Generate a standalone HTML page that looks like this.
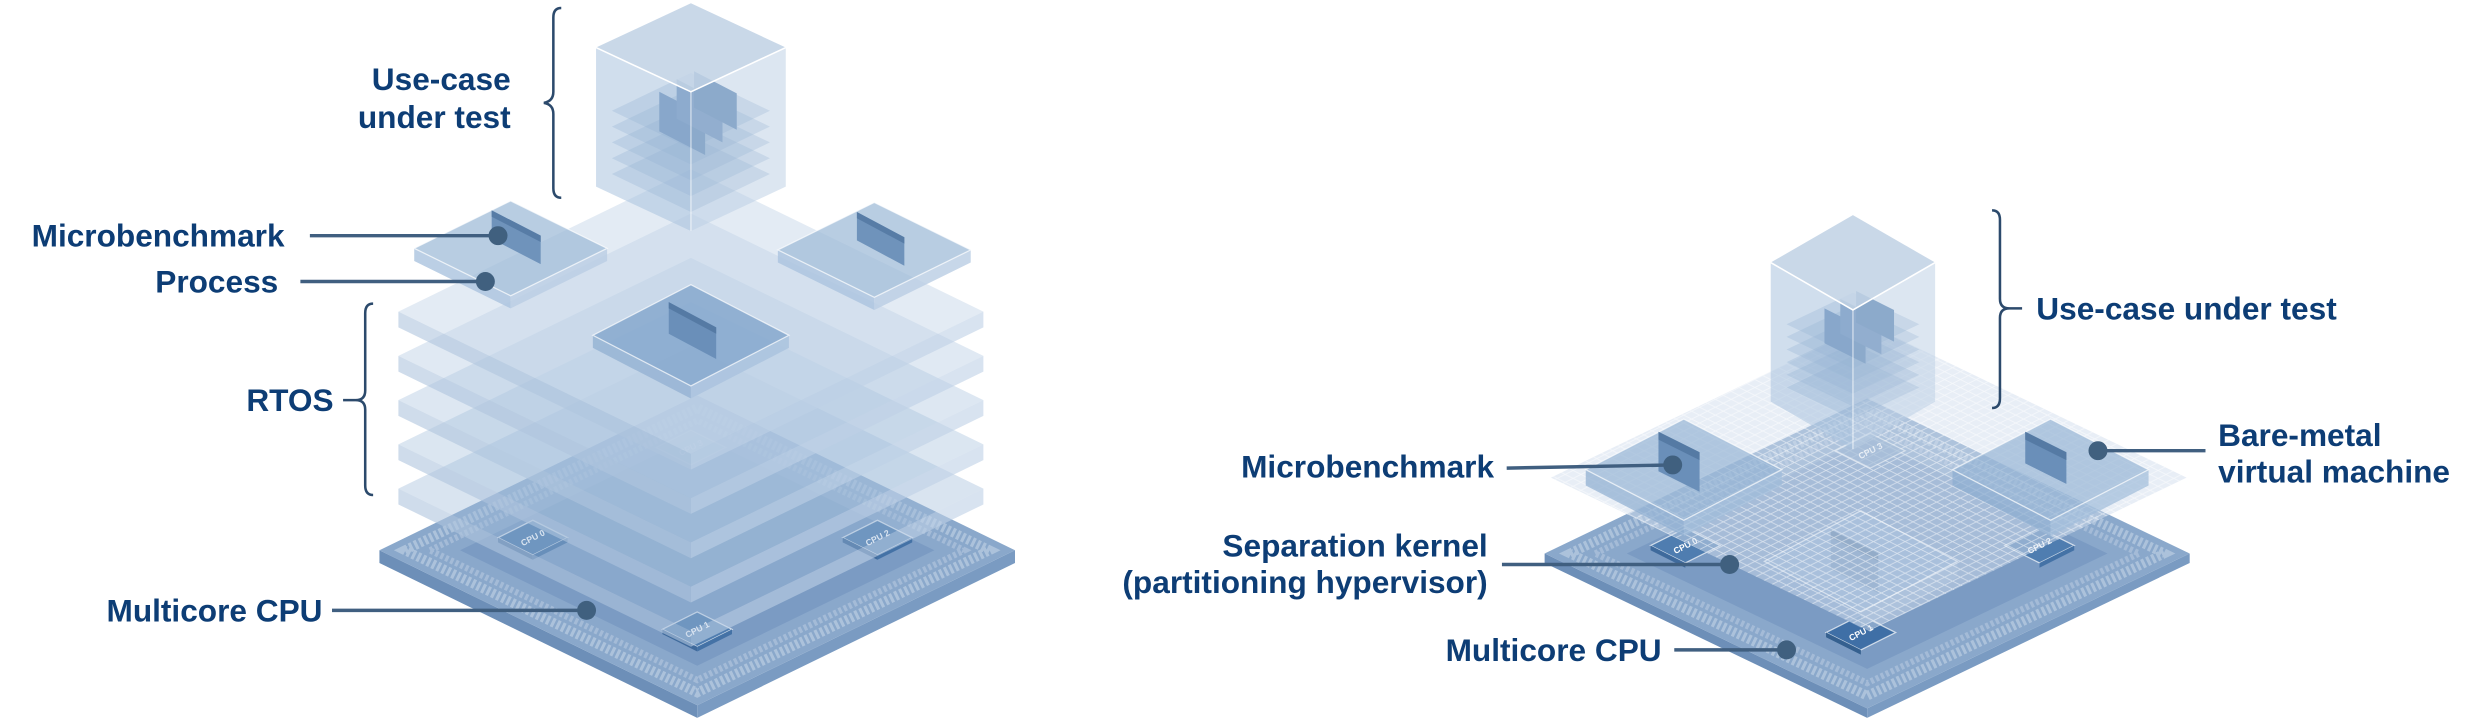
<!DOCTYPE html>
<html><head><meta charset="utf-8"><style>
html,body{margin:0;padding:0;background:#fff;}
svg{display:block;}
.t{font-family:"Liberation Sans",Arial,sans-serif;font-weight:bold;font-size:20px;fill:#0d3d75;}
.c{font-family:"Liberation Sans",Arial,sans-serif;font-weight:bold;font-size:5.5px;fill:#fff;}
.ln{stroke:#405f80;stroke-width:2.2;fill:none;}
.br{stroke:#2c4a6c;stroke-width:1.6;fill:none;}
.dot{fill:#40607f;}
.edge{stroke:#fff;stroke-width:0.8;stroke-opacity:.7;}
</style></head><body>
<svg width="2479" height="718" viewBox="0 0 1568 454" xmlns="http://www.w3.org/2000/svg">
<defs>
<pattern id="grid" width="10" height="5" patternUnits="userSpaceOnUse">
<path d="M0,0 L10,5 M10,0 L0,5" stroke="#fff" stroke-width="0.5" stroke-opacity=".55"/>
</pattern>
</defs>

<!-- ================= LEFT ================= -->
<polygon points="240,348 441,446 441,454 240,356" fill="#6d8fb8"/>
<polygon points="441,446 642,348 642,356 441,454" fill="#7a9bc2"/>
<polygon points="240,348 441,250 642,348 441,446" fill="#8aa8cb"/>
<polygon points="256,348 441,258 626,348 441,438" fill="none" stroke="#c3d3e6" stroke-width="6" stroke-dasharray="2 1.5" opacity=".6"/>
<polygon points="272,348 441,266 610,348 441,430" fill="none" stroke="#c3d3e6" stroke-width="4" stroke-dasharray="2 1.5" opacity=".45"/>
<polygon points="291,348 441,275 591,348 441,421" fill="#7b9bc3"/>
<g><polygon points="315,340 337,329 359,340 337,351" fill="#4f7db0" class="edge"/><polygon points="315,340 337,351 337,354 315,343" fill="#3f6a9c"/><polygon points="337,351 359,340 359,343 337,354" fill="#4472a6"/><text class="c" x="337" y="342" text-anchor="middle" transform="rotate(-27 337 340)">CPU 0</text></g>
<g><polygon points="533,340 555,329 577,340 555,351" fill="#4f7db0" class="edge"/><polygon points="533,340 555,351 555,354 533,343" fill="#3f6a9c"/><polygon points="555,351 577,340 577,343 555,354" fill="#4472a6"/><text class="c" x="555" y="342" text-anchor="middle" transform="rotate(-27 555 340)">CPU 2</text></g>
<g><polygon points="419,398 441,387 463,398 441,409" fill="#4f7db0" class="edge"/><polygon points="419,398 441,409 441,412 419,401" fill="#3f6a9c"/><polygon points="441,409 463,398 463,401 441,412" fill="#4472a6"/><text class="c" x="441" y="400" text-anchor="middle" transform="rotate(-27 441 398)">CPU 1</text></g>
<g opacity=".6"><polygon points="415,283 437,272 459,283 437,294" fill="#9fb8d5" class="edge"/><text class="c" x="437" y="285" text-anchor="middle" transform="rotate(-27 437 283)">CPU 3</text></g>

<!-- RTOS slabs -->
<g>
<g><polygon points="252,309 437,399 437,409 252,319" fill="rgba(175,197,222,.6)"/><polygon points="437,399 622,309 622,319 437,409" fill="rgba(190,208,230,.6)"/><polygon points="252,309 437,219 622,309 437,399" fill="rgba(160,188,218,.4)"/></g>
<g><polygon points="252,281 437,371 437,381 252,291" fill="rgba(175,197,222,.6)"/><polygon points="437,371 622,281 622,291 437,381" fill="rgba(190,208,230,.6)"/><polygon points="252,281 437,191 622,281 437,371" fill="rgba(165,192,220,.4)"/></g>
<g><polygon points="252,253 437,343 437,353 252,263" fill="rgba(175,197,222,.6)"/><polygon points="437,343 622,253 622,263 437,353" fill="rgba(190,208,230,.6)"/><polygon points="252,253 437,163 622,253 437,343" fill="rgba(170,196,222,.4)"/></g>
<g><polygon points="252,225 437,315 437,325 252,235" fill="rgba(175,197,222,.6)"/><polygon points="437,315 622,225 622,235 437,325" fill="rgba(190,208,230,.6)"/><polygon points="252,225 437,135 622,225 437,315" fill="rgba(180,202,226,.42)"/></g>
<g><polygon points="252,197 437,287 437,297 252,207" fill="rgba(175,197,222,.6)"/><polygon points="437,287 622,197 622,207 437,297" fill="rgba(190,208,230,.6)"/><polygon points="252,197 437,107 622,197 437,287" fill="rgba(200,215,233,.5)"/></g>
</g>

<!-- process boxes -->
<g>
<polygon points="262,157 323,187 323,195 262,165" fill="rgba(170,195,222,.8)"/><polygon points="323,187 384,157 384,165 323,195" fill="rgba(185,205,228,.8)"/><polygon points="262,157 323,127 384,157 323,187" fill="rgba(160,188,216,.75)" class="edge"/>
<polygon points="311,133 342,149 342,167 311,151" fill="#6f93bb"/><polygon points="311,133 342,149 342,153 311,137" fill="#577ca6"/>
</g>
<g>
<polygon points="492,158 553,188 553,196 492,166" fill="rgba(170,195,222,.8)"/><polygon points="553,188 614,158 614,166 553,196" fill="rgba(185,205,228,.8)"/><polygon points="492,158 553,128 614,158 553,188" fill="rgba(160,188,216,.75)" class="edge"/>
<polygon points="542,134 572,150 572,168 542,152" fill="#6f93bb"/><polygon points="542,134 572,150 572,154 542,138" fill="#577ca6"/>
</g>
<g>
<polygon points="375,212 437,244 437,252 375,220" fill="rgba(150,180,212,.85)"/><polygon points="437,244 499,212 499,220 437,252" fill="rgba(170,195,222,.85)"/><polygon points="375,212 437,180 499,212 437,244" fill="rgba(130,165,204,.8)" class="edge"/>
<polygon points="423,191 453,207 453,227 423,211" fill="#6a8fb9"/><polygon points="423,191 453,207 453,211 423,195" fill="#557aa4"/>
</g>

<!-- cube left -->
<g>
<polygon points="387,70 437,46 487,70 437,94" fill="rgba(120,155,196,.3)"/>
<polygon points="387,80 437,56 487,80 437,104" fill="rgba(120,155,196,.3)"/>
<polygon points="387,90 437,66 487,90 437,114" fill="rgba(120,155,196,.3)"/>
<polygon points="387,100 437,76 487,100 437,124" fill="rgba(120,155,196,.3)"/>
<polygon points="387,110 437,86 487,110 437,134" fill="rgba(120,155,196,.3)"/>
<polygon points="417,58 446,73 446,98 417,83" fill="#5f86b3"/>
<polygon points="428,50 457,65 457,90 428,75" fill="#6a8fba"/>
<polygon points="439,45 466,59 466,82 439,68" fill="#5f86b3"/>
<polygon points="377,30 437,58 437,146 377,118" fill="rgba(170,195,222,.55)"/>
<polygon points="437,58 497,30 497,118 437,146" fill="rgba(185,206,228,.5)"/>
<polygon points="377,30 437,2 497,30 437,58" fill="rgba(195,212,230,.9)"/>
<polyline points="377,30 437,58 497,30" fill="none" stroke="#fff" stroke-width="1"/>
<line x1="437" y1="58" x2="437" y2="146" stroke="#fff" stroke-opacity=".5"/>
</g>

<!-- left labels -->
<path class="br" d="M355,5 Q350,5 350,11 L350,58 Q350,64 344,65 Q350,66 350,72 L350,119 Q350,125 355,125"/>
<text class="t" x="323" y="57" text-anchor="end">Use-case</text>
<text class="t" x="323" y="81" text-anchor="end">under test</text>
<text class="t" x="20" y="156">Microbenchmark</text>
<line class="ln" x1="196" y1="149" x2="315" y2="149"/><circle class="dot" cx="315" cy="149" r="6"/>
<text class="t" x="176" y="185" text-anchor="end">Process</text>
<line class="ln" x1="190" y1="178" x2="307" y2="178"/><circle class="dot" cx="307" cy="178" r="6"/>
<path class="br" d="M236,192 Q231,192 231,198 L231,247 Q231,253 225,253 L217,253 M225,253 Q231,253 231,259 L231,307 Q231,313 236,313"/>
<text class="t" x="211" y="260" text-anchor="end">RTOS</text>
<text class="t" x="204" y="393" text-anchor="end">Multicore CPU</text>
<line class="ln" x1="210" y1="386" x2="371" y2="386"/><circle class="dot" cx="371" cy="386" r="6"/>

<!-- ================= RIGHT ================= -->
<polygon points="977,350 1181,448 1181,454 977,356" fill="#6d8fb8"/>
<polygon points="1181,448 1385,350 1385,356 1181,454" fill="#7a9bc2"/>
<polygon points="977,350 1181,252 1385,350 1181,448" fill="#8aa8cb"/>
<polygon points="993,350 1181,260 1369,350 1181,440" fill="none" stroke="#c3d3e6" stroke-width="6" stroke-dasharray="2 1.5" opacity=".6"/>
<polygon points="1009,350 1181,268 1353,350 1181,432" fill="none" stroke="#c3d3e6" stroke-width="4" stroke-dasharray="2 1.5" opacity=".45"/>
<polygon points="1029,350 1181,277 1333,350 1181,423" fill="#7b9bc3"/>
<g><polygon points="1044,345 1066,334 1088,345 1066,356" fill="#4f7db0" class="edge"/><polygon points="1044,345 1066,356 1066,359 1044,348" fill="#3f6a9c"/><text class="c" x="1066" y="347" text-anchor="middle" transform="rotate(-27 1066 345)">CPU 0</text></g>
<g><polygon points="1268,345 1290,334 1312,345 1290,356" fill="#4f7db0" class="edge"/><polygon points="1290,356 1312,345 1312,348 1290,359" fill="#4472a6"/><text class="c" x="1290" y="347" text-anchor="middle" transform="rotate(-27 1290 345)">CPU 2</text></g>
<g><polygon points="1155,400 1177,389 1199,400 1177,411" fill="#3f6fa6" class="edge"/><polygon points="1155,400 1177,411 1177,414 1155,403" fill="#35608f"/><text class="c" x="1177" y="402" text-anchor="middle" transform="rotate(-27 1177 400)">CPU 1</text></g>
<g>
<polygon points="1116,355 1177,387 1177,397 1116,365" fill="rgba(120,155,196,.8)"/><polygon points="1177,387 1238,355 1238,365 1177,397" fill="rgba(140,170,205,.8)"/><polygon points="1116,355 1177,323 1238,355 1177,387" fill="rgba(130,165,204,.8)" class="edge"/>
<polygon points="1158,335 1188,350 1188,375 1158,360" fill="#6a8fb9"/><polygon points="1158,335 1188,350 1188,355 1158,340" fill="#557aa4"/>
</g>
<polygon points="981,302 1182,205 1383,302 1182,399" fill="rgba(210,222,238,.5)"/>
<polygon points="981,302 1182,205 1383,302 1182,399" fill="url(#grid)"/>
<g opacity=".7"><polygon points="1161,285 1183,274 1205,285 1183,296" fill="#a9c0da" class="edge"/><text class="c" x="1183" y="287" text-anchor="middle" transform="rotate(-27 1183 285)">CPU 3</text></g>
<g>
<polygon points="1003,297 1065,329 1065,339 1003,307" fill="rgba(140,172,208,.7)"/><polygon points="1065,329 1127,297 1127,307 1065,339" fill="rgba(160,188,218,.7)"/><polygon points="1003,297 1065,265 1127,297 1065,329" fill="rgba(145,176,210,.65)" class="edge"/>
<polygon points="1049,273 1075,286 1075,311 1049,298" fill="#6a8fb9"/><polygon points="1049,273 1075,286 1075,291 1049,278" fill="#557aa4"/>
</g>
<g>
<polygon points="1235,297 1297,329 1297,339 1235,307" fill="rgba(140,172,208,.7)"/><polygon points="1297,329 1359,297 1359,307 1297,339" fill="rgba(160,188,218,.7)"/><polygon points="1235,297 1297,265 1359,297 1297,329" fill="rgba(145,176,210,.65)" class="edge"/>
<polygon points="1281,273 1307,286 1307,306 1281,293" fill="#6a8fb9"/><polygon points="1281,273 1307,286 1307,291 1281,278" fill="#557aa4"/>
</g>
<g>
<polygon points="1130,205 1172,185 1214,205 1172,225" fill="rgba(120,155,196,.3)"/>
<polygon points="1130,213 1172,193 1214,213 1172,233" fill="rgba(120,155,196,.3)"/>
<polygon points="1130,221 1172,201 1214,221 1172,241" fill="rgba(120,155,196,.3)"/>
<polygon points="1130,229 1172,209 1214,229 1172,249" fill="rgba(120,155,196,.3)"/>
<polygon points="1130,237 1172,217 1214,237 1172,257" fill="rgba(120,155,196,.3)"/>
<polygon points="1130,245 1172,225 1214,245 1172,265" fill="rgba(120,155,196,.3)"/>
<polygon points="1154,195 1180,208 1180,230 1154,217" fill="#5f86b3"/>
<polygon points="1164,189 1190,202 1190,224 1164,211" fill="#6a8fba"/>
<polygon points="1174,184 1198,196 1198,216 1174,204" fill="#5f86b3"/>
<polygon points="1120,166 1172,196 1172,284 1120,254" fill="rgba(170,195,222,.55)"/>
<polygon points="1172,196 1224,166 1224,254 1172,284" fill="rgba(185,206,228,.5)"/>
<polygon points="1120,166 1172,136 1224,166 1172,196" fill="rgba(195,212,230,.9)"/>
<polyline points="1120,166 1172,196 1224,166" fill="none" stroke="#fff" stroke-width="1"/>
<line x1="1172" y1="196" x2="1172" y2="284" stroke="#fff" stroke-opacity=".5"/>
</g>

<path class="br" d="M1260,133 Q1265,133 1265,139 L1265,189 Q1265,195 1271,195 L1279,195 M1271,195 Q1265,195 1265,201 L1265,252 Q1265,258 1260,258"/>
<text class="t" x="1288" y="202">Use-case under test</text>
<text class="t" x="1403" y="282">Bare-metal</text>
<text class="t" x="1403" y="305">virtual machine</text>
<line class="ln" x1="1327" y1="285" x2="1395" y2="285"/><circle class="dot" cx="1327" cy="285" r="6"/>
<text class="t" x="945" y="302" text-anchor="end">Microbenchmark</text>
<line class="ln" x1="953" y1="296" x2="1058" y2="294"/><circle class="dot" cx="1058" cy="294" r="6"/>
<text class="t" x="941" y="352" text-anchor="end">Separation kernel</text>
<text class="t" x="941" y="375" text-anchor="end">(partitioning hypervisor)</text>
<line class="ln" x1="950" y1="357" x2="1094" y2="357"/><circle class="dot" cx="1094" cy="357" r="6"/>
<text class="t" x="1051" y="418" text-anchor="end">Multicore CPU</text>
<line class="ln" x1="1059" y1="411" x2="1130" y2="411"/><circle class="dot" cx="1130" cy="411" r="6"/>
</svg>
</body></html>
